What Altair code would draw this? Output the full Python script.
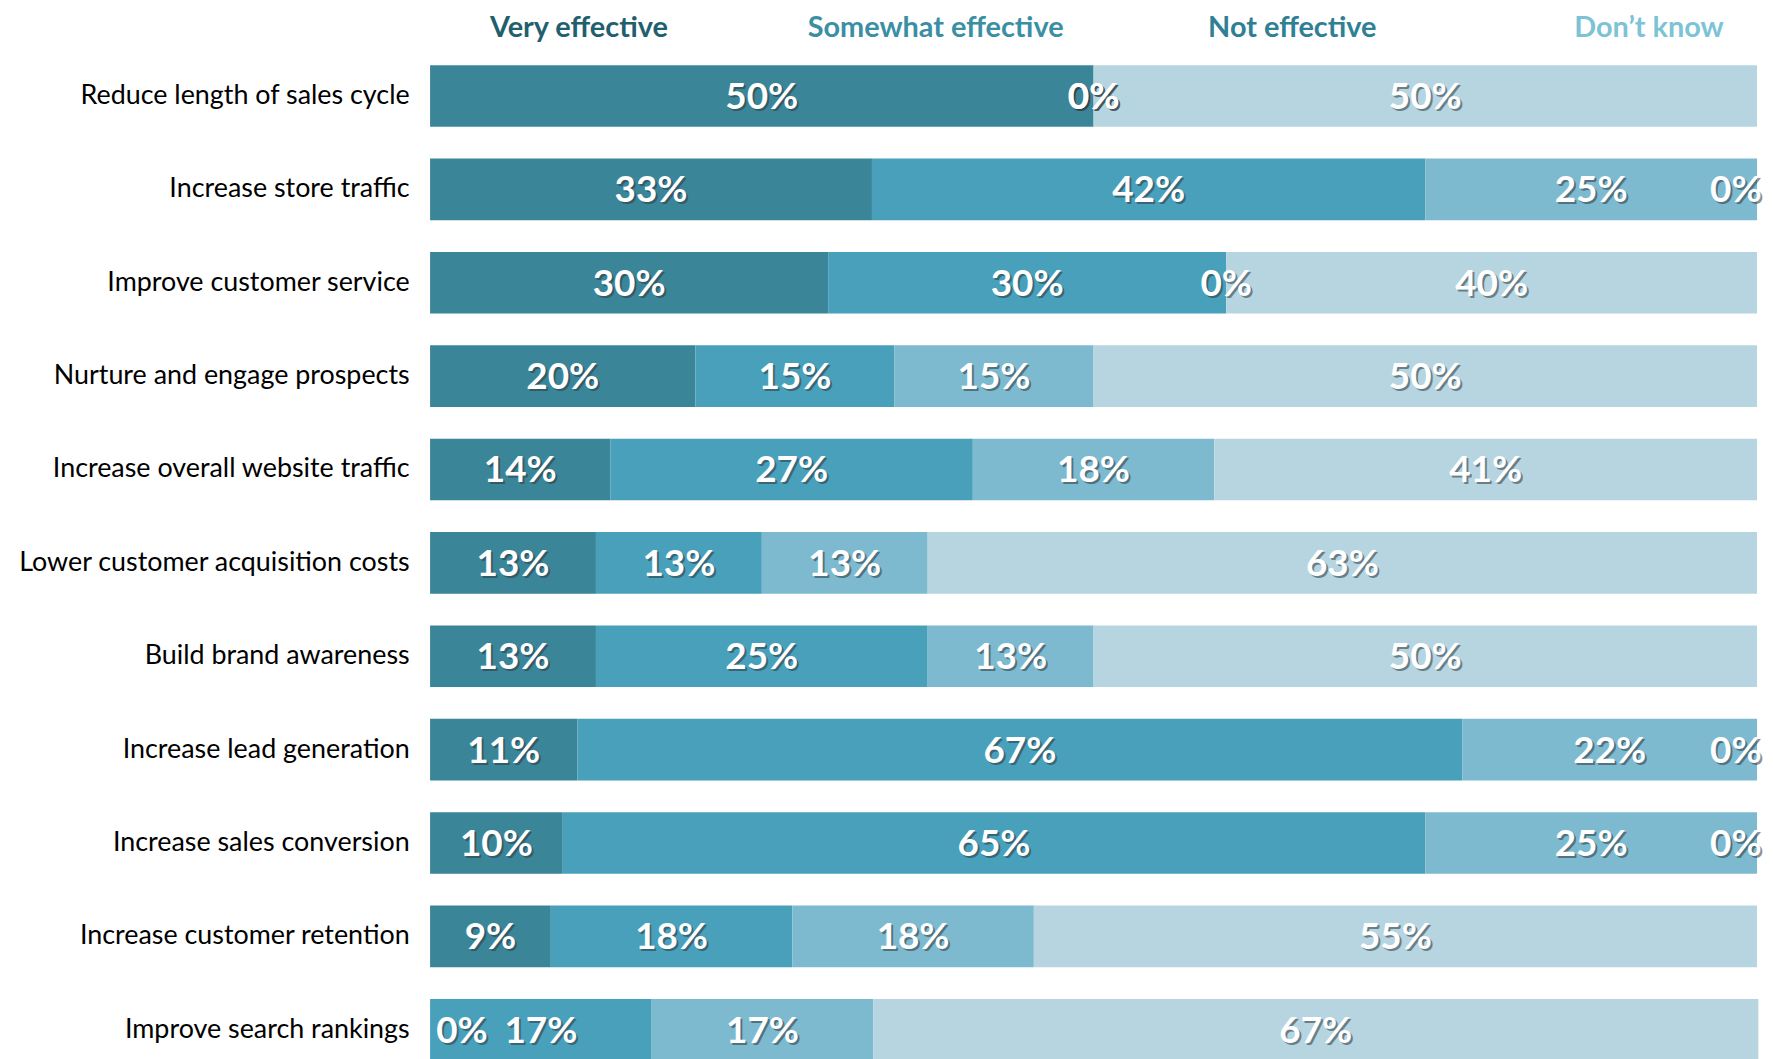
import math
import altair as alt
import pandas as pd

# ---- data ----
goals = [
    "Reduce length of sales cycle",
    "Increase store traffic",
    "Improve customer service",
    "Nurture and engage prospects",
    "Increase overall website traffic",
    "Lower customer acquisition costs",
    "Build brand awareness",
    "Increase lead generation",
    "Increase sales conversion",
    "Increase customer retention",
    "Improve search rankings",
]
categories = ["Very effective", "Somewhat effective", "Not effective", "Don\u2019t know"]

very_effective = [50, 33.3, 30, 20, 13.6, 12.5, 12.5, 11.1, 10, 9.1, 0]
somewhat_effective = [0, 41.7, 30, 15, 27.3, 12.5, 25, 66.7, 65, 18.2, 16.7]
not_effective = [0, 25, 0, 15, 18.2, 12.5, 12.5, 22.2, 25, 18.2, 16.7]
dont_know = [50, 0, 40, 50, 40.9, 62.5, 50, 0, 0, 54.5, 66.7]

bar_colors = ["#3a8598", "#48a0ba", "#7ebacf", "#b6d5e0"]
header_colors = ["#1f5f6f", "#3a8fa4", "#2f8094", "#7cc3d6"]

# ---- build long table ----
series = [very_effective, somewhat_effective, not_effective, dont_know]
rows = []
for i, g in enumerate(goals):
    cum = 0.0
    for c, vals in zip(categories, series):
        v = vals[i]
        rows.append({
            "goal": g,
            "cat": c,
            "value": v,
            "start": cum,
            "end": cum + v,
            "label": f"{int(math.floor(v + 0.5))}%",
        })
        cum += v
df = pd.DataFrame(rows)

font = "Lato"

# the last row runs off the bottom edge of the page, as in the reference
y_enc = alt.Y(
    "goal:N",
    sort=goals,
    scale=alt.Scale(paddingInner=0.34, paddingOuter=0, range=[0, 1000]),
    axis=alt.Axis(
        title=None, ticks=False, domain=False, labelFont=font,
        labelFontSize=27, labelColor="#000000", labelPadding=21,
        labelLimit=500,
    ),
)
x_scale = alt.Scale(domain=[0, 100], nice=False, zero=True)

bars = alt.Chart(df).mark_bar().encode(
    y=y_enc,
    x=alt.X("start:Q", scale=x_scale, axis=None),
    x2="end:Q",
    color=alt.Color("cat:N", scale=alt.Scale(domain=categories, range=bar_colors), legend=None),
)

base_text = alt.Chart(df).transform_calculate(
    lx="min(max((datum.start + datum.end) / 2, 2.4), 98.4)"
)
shadow = base_text.mark_text(
    font=font, fontWeight="bold", fontSize=37, color="#2a3a40", opacity=0.55,
    baseline="middle", align="center", dx=2, dy=4,
).encode(
    y=alt.Y("goal:N", sort=goals),
    x=alt.X("lx:Q", scale=x_scale, axis=None),
    text="label:N",
)
labels = base_text.mark_text(
    font=font, fontWeight="bold", fontSize=37, color="#ffffff",
    baseline="middle", align="center", dy=2,
).encode(
    y=alt.Y("goal:N", sort=goals),
    x=alt.X("lx:Q", scale=x_scale, axis=None),
    text="label:N",
)

main = alt.layer(bars, shadow, labels)

hdr_df = pd.DataFrame({"cat": categories})
color_cond = {
    "condition": [
        {"test": f"datum.value === '{c}'", "value": col}
        for c, col in zip(categories[:-1], header_colors[:-1])
    ],
    "value": header_colors[-1],
}
header = alt.Chart(hdr_df).mark_point(opacity=0).encode(
    x=alt.X(
        "cat:N",
        sort=categories,
        scale=alt.Scale(type="point", padding=0.36),
        axis=alt.Axis(
            orient="top", title=None, ticks=False, domain=False,
            labelAngle=0, labelFont=font, labelFontWeight="bold",
            labelFontSize=29, labelPadding=38, labelBaseline="middle",
            labelColor=color_cond, labelLimit=400, labelOffset=20,
        ),
    )
)

chart = (
    alt.layer(main, header)
    .resolve_scale(x="independent")
    .properties(
        width=1333,
        height=996,
        autosize=alt.AutoSizeParams(type="none"),
        padding={"left": 424, "top": 55, "right": 8, "bottom": 0},
        background="white",
    )
    .configure_view(stroke=None)
)

chart.save("out.html", embed_options={"renderer": "svg", "actions": False})
